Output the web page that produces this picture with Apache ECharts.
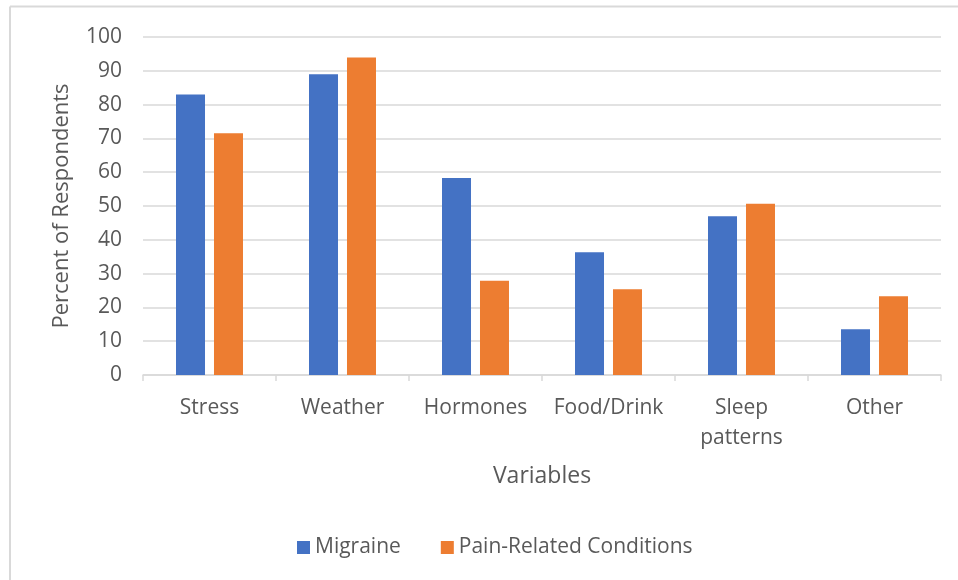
<!DOCTYPE html>
<html>
<head>
<meta charset="utf-8">
<script src="https://cdn.jsdelivr.net/npm/echarts@6/dist/echarts.min.js"></script>
<style>
  html, body { margin: 0; padding: 0; background: #ffffff; }
  #chart { width: 958px; height: 580px; }
</style>
</head>
<body>
<div id="chart"></div>
<script>
// Triggers reported by respondents, grouped by condition
const categories = ['Stress', 'Weather', 'Hormones', 'Food/Drink', 'Sleep\npatterns', 'Other'];
const migraine = [83, 89, 58.3, 36.3, 47, 13.5];
const painRelated = [71.5, 93.9, 27.9, 25.4, 50.7, 23.3];
const yTicks = { min: 0, max: 100, interval: 10 };

const FONT = '"Open Sans", "Noto Sans", sans-serif';
const TEXT = '#595959';
const GRID = '#d9d9d9';

const chart = echarts.init(document.getElementById('chart'), null, { renderer: 'canvas' });

chart.setOption({
  backgroundColor: '#ffffff',
  animation: false,
  textStyle: { fontFamily: FONT, color: TEXT },
  graphic: [
    // outer frame (left and top edges)
    { type: 'line', silent: true, shape: { x1: 10, y1: 6.5, x2: 958, y2: 6.5 }, style: { stroke: GRID, lineWidth: 2 } },
    { type: 'line', silent: true, shape: { x1: 10, y1: 6.5, x2: 10, y2: 580 }, style: { stroke: GRID, lineWidth: 2 } }
  ],
  grid: { left: 143, right: 17, top: 37, bottom: 205, containLabel: false },
  legend: {
    bottom: 17,
    left: 292,
    itemWidth: 13,
    itemHeight: 13,
    itemGap: 40,
    icon: 'rect',
    textStyle: { fontFamily: FONT, fontSize: 21, color: TEXT, padding: [0, 0, 0, 0] },
    data: ['Migraine', 'Pain-Related Conditions']
  },
  xAxis: {
    type: 'category',
    data: categories,
    name: 'Variables',
    nameLocation: 'middle',
    nameGap: 90,
    nameTextStyle: { fontFamily: FONT, fontSize: 23, color: TEXT },
    axisLine: { lineStyle: { color: GRID, width: 1.5 } },
    axisTick: { show: true, interval: 0, alignWithLabel: false, length: 6, lineStyle: { color: GRID, width: 1.5 } },
    axisLabel: { interval: 0, hideOverlap: false, fontFamily: FONT, fontSize: 21, color: TEXT, margin: 18, lineHeight: 30 }
  },
  yAxis: {
    type: 'value',
    min: yTicks.min,
    max: yTicks.max,
    interval: yTicks.interval,
    name: 'Percent of Respondents',
    nameLocation: 'middle',
    nameGap: 70,
    nameRotate: 90,
    nameTextStyle: { fontFamily: FONT, fontSize: 22, color: TEXT },
    axisLine: { show: false },
    axisTick: { show: false },
    axisLabel: { fontFamily: FONT, fontSize: 21, color: TEXT, margin: 21 },
    splitLine: { lineStyle: { color: GRID, width: 1.5 } }
  },
  series: [
    {
      name: 'Migraine',
      type: 'bar',
      data: migraine,
      barWidth: 29,
      barGap: '31%',
      itemStyle: { color: '#4472C4' }
    },
    {
      name: 'Pain-Related Conditions',
      type: 'bar',
      data: painRelated,
      barWidth: 29,
      itemStyle: { color: '#ED7D31' }
    }
  ]
});
</script>
</body>
</html>
